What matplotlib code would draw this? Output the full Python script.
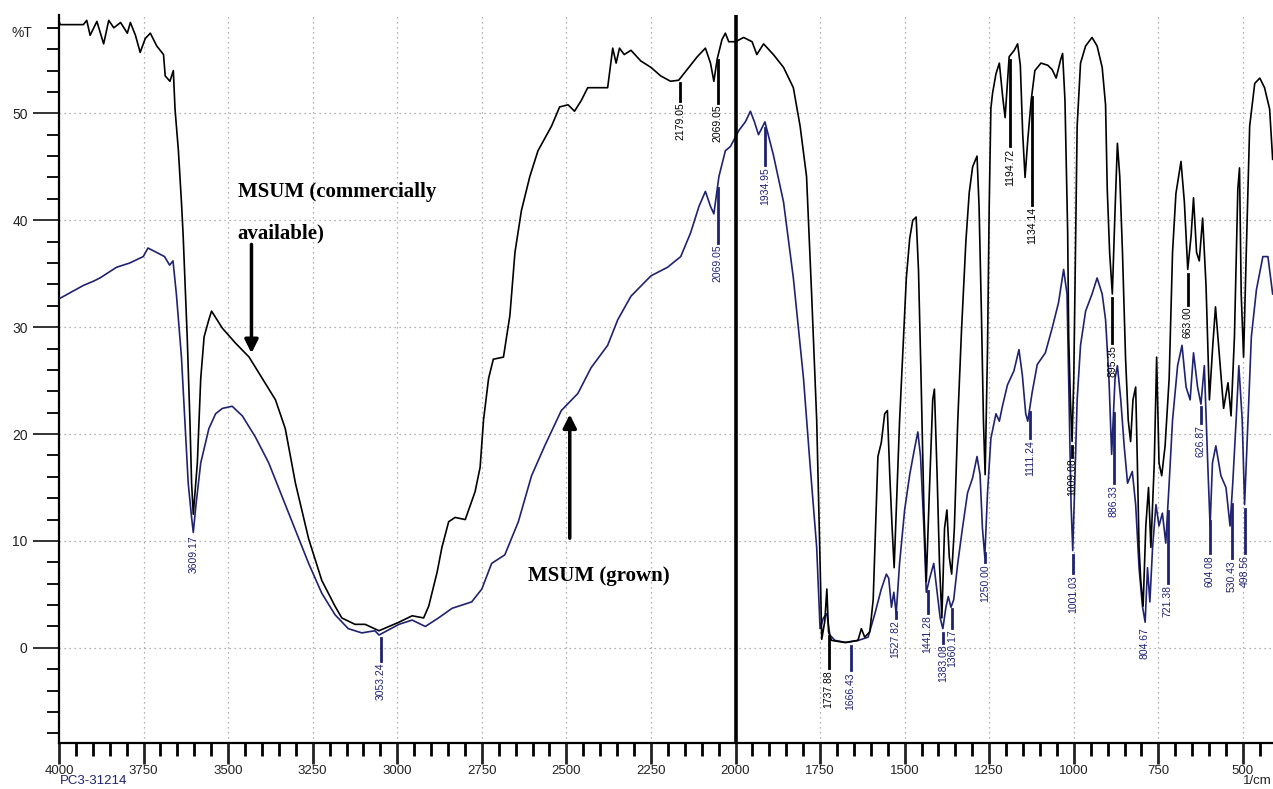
import numpy as np
import matplotlib
matplotlib.use("Agg")
import matplotlib.pyplot as plt

# FTIR spectra, %T vs wavenumber (1/cm)
wn_comm = [4000, 3997, 3928, 3918, 3908, 3888, 3868, 3853, 3838, 3818, 3798, 3789, 3774, 3760,
           3745, 3730, 3711, 3691, 3686, 3672, 3662, 3657, 3647, 3638, 3633, 3628, 3621, 3613,
           3608, 3603, 3591, 3581, 3571, 3557, 3549, 3517, 3478, 3438, 3399, 3360, 3331, 3301,
           3262, 3223, 3184, 3164, 3125, 3095, 3054, 2995, 2956, 2922, 2907, 2882, 2868, 2848,
           2829, 2799, 2770, 2755, 2745, 2730, 2716, 2686, 2667, 2652, 2633, 2608, 2584, 2544,
           2520, 2495, 2476, 2456, 2437, 2407, 2378, 2363, 2353, 2343, 2329, 2309, 2280, 2250,
           2221, 2192, 2168, 2143, 2113, 2089, 2074, 2064, 2054, 2040, 2030, 2020, 2000, 1976,
           1951, 1937, 1917, 1888, 1858, 1829, 1809, 1790, 1775, 1760, 1750, 1745, 1736, 1730,
           1725, 1716, 1677, 1638, 1628, 1618, 1603, 1593, 1579, 1569, 1559, 1551, 1544, 1537,
           1531, 1524, 1515, 1505, 1495, 1485, 1476, 1466, 1459, 1451, 1443, 1436, 1427, 1417,
           1412, 1404, 1397, 1390, 1382, 1375, 1368, 1361, 1353, 1343, 1332, 1319, 1309, 1299,
           1286, 1280, 1273, 1267, 1262, 1255, 1250, 1245, 1240, 1230, 1220, 1210, 1203, 1191,
           1176, 1166, 1158, 1151, 1144, 1136, 1126, 1115, 1097, 1077, 1064, 1052, 1039, 1033,
           1026, 1018, 1015, 1010, 1005, 1000, 995, 990, 980, 965, 946, 931, 916, 906, 901, 894,
           886, 878, 871, 864, 856, 847, 839, 832, 825, 817, 812, 807, 802, 795, 787, 779, 772,
           762, 755, 748, 740, 730, 718, 708, 698, 683, 673, 663, 653, 646, 637, 629, 619, 609,
           599, 589, 581, 569, 557, 544, 535, 525, 515, 510, 505, 498, 490, 480, 465, 450, 436,
           421, 412]
t_comm = [58.7, 58.3, 58.3, 58.7, 57.3, 58.6, 56.5, 58.7, 58.0, 58.5, 57.5, 58.5, 57.3, 55.7,
          57.0, 57.5, 56.3, 55.5, 53.5, 53.0, 54.0, 50.4, 46.5, 41.7, 38.6, 34.6, 29.1, 21.3,
          15.4, 12.5, 17.3, 25.2, 29.1, 30.7, 31.5, 29.9, 28.5, 27.2, 25.2, 23.2, 20.5, 15.4,
          10.2, 6.3, 3.9, 2.8, 2.2, 2.2, 1.6, 2.4, 3.0, 2.8, 3.9, 7.1, 9.4, 11.8,
          12.2, 12.0, 14.6, 16.9, 21.3, 25.2, 27.0, 27.2, 31.1, 37.0, 40.9, 44.1, 46.5, 48.8,
          50.6, 50.8, 50.2, 51.2, 52.4, 52.4, 52.4, 56.1, 54.7, 56.1, 55.5, 55.9, 54.9, 54.3,
          53.5, 53.0, 53.1, 54.1, 55.3, 56.1, 54.7, 53.0, 55.1, 56.9, 57.5, 56.7, 56.7, 57.1,
          56.7, 55.5, 56.5, 55.5, 54.3, 52.4, 48.8, 44.1, 33.1, 21.3, 8.0, 0.8, 2.5, 5.5,
          1.5, 0.7, 0.5, 0.7, 1.8, 1.0, 1.5, 4.5, 17.9, 19.2, 21.9, 22.2, 16.2, 11.2,
          7.5, 13.5, 21.2, 27.9, 34.6, 38.3, 40.0, 40.3, 35.3, 24.6, 12.9, 6.2, 14.5, 23.2,
          24.2, 16.2, 7.9, 2.8, 11.2, 12.9, 8.5, 6.9, 11.2, 21.2, 29.6, 38.0, 42.6, 45.0,
          46.0, 41.3, 31.3, 21.2, 16.2, 27.9, 41.3, 50.5, 51.9, 53.7, 54.7, 51.5, 49.6, 55.3,
          55.9, 56.5, 54.5, 48.1, 44.0, 47.5, 51.2, 54.0, 54.7, 54.5, 54.1, 53.3, 55.0, 55.6,
          51.2, 38.8, 29.1, 23.2, 19.3, 25.2, 37.0, 48.8, 54.7, 56.3, 57.1, 56.3, 54.3, 50.8, 42.9, 37.0,
          33.1, 40.9, 47.2, 44.1, 37.0, 27.2, 21.3, 19.3, 23.2, 24.4, 17.3, 9.4, 6.3, 3.9, 11.4, 15.0, 9.4,
          17.3, 27.2, 17.3, 16.1, 18.9, 25.2, 37.0, 42.5, 45.5, 41.7, 35.4, 38.6, 42.1, 37.0, 36.2, 40.2, 33.9,
          23.2, 28.3, 31.9, 27.2, 22.4, 24.8, 21.7, 29.1, 42.9, 44.9, 33.1, 27.2, 37.0, 48.8, 52.8, 53.3, 52.4,
          50.4, 45.7]

wn_grown = [4000, 3997, 3928, 3898, 3879, 3830, 3791, 3751, 3737, 3712, 3688, 3673, 3663, 3653,
            3638, 3628, 3618, 3608, 3603, 3595, 3581, 3557, 3537, 3517, 3488, 3458, 3419, 3380,
            3341, 3301, 3262, 3223, 3184, 3145, 3105, 3066, 3054, 2995, 2956, 2917, 2878, 2838,
            2780, 2750, 2721, 2682, 2642, 2603, 2564, 2515, 2466, 2427, 2378, 2348, 2309, 2250,
            2201, 2162, 2133, 2108, 2089, 2074, 2064, 2049, 2030, 2015, 1990, 1971, 1956, 1944,
            1932, 1913, 1888, 1858, 1829, 1799, 1780, 1760, 1750, 1740, 1730, 1721, 1706, 1672,
            1637, 1608, 1588, 1569, 1554, 1547, 1539, 1532, 1525, 1515, 1500, 1485, 1471, 1461,
            1453, 1443, 1436, 1426, 1414, 1404, 1395, 1387, 1378, 1371, 1363, 1355, 1343, 1329,
            1314, 1299, 1286, 1277, 1270, 1263, 1255, 1245, 1230, 1220, 1211, 1196, 1177, 1162,
            1152, 1142, 1136, 1123, 1108, 1084, 1064, 1045, 1030, 1020, 1013, 1008, 1003, 997,
            990, 980, 965, 946, 931, 916, 906, 896, 888, 878, 871, 861, 851, 841, 827, 817, 807,
            797, 789, 782, 775, 767, 757, 748, 738, 728, 718, 708, 693, 680, 668, 656, 646, 634,
            624, 614, 604, 597, 590, 580, 565, 550, 538, 530, 520, 512, 502, 495, 485, 475, 460,
            441, 426, 412]
t_grown = [32.7, 32.7, 33.9, 34.3, 34.6, 35.6, 36.0, 36.6, 37.4, 37.0, 36.6, 35.8, 36.2, 33.1,
           27.2, 21.3, 15.4, 12.2, 10.8, 13.4, 17.3, 20.5, 21.9, 22.4, 22.6, 21.7, 19.7, 17.3,
           14.2, 11.0, 7.9, 5.1, 3.1, 1.8, 1.4, 1.6, 1.2, 2.2, 2.6, 2.0, 2.8, 3.7,
           4.3, 5.5, 7.9, 8.7, 11.8, 16.1, 18.9, 22.2, 23.8, 26.2, 28.3, 30.7, 32.9, 34.8,
           35.6, 36.6, 38.8, 41.3, 42.7, 41.3, 40.6, 44.1, 46.5, 46.9, 48.4, 49.2, 50.2, 49.2,
           48.0, 49.2, 46.1, 41.7, 34.6, 25.2, 17.3, 9.4, 1.8, 2.8, 3.2, 1.2, 0.7, 0.5,
           0.7, 1.0, 3.2, 5.5, 6.9, 6.5, 3.8, 5.2, 3.2, 7.9, 12.9, 16.2, 18.6, 20.2,
           17.9, 11.2, 5.2, 6.5, 7.9, 5.2, 2.8, 1.8, 3.8, 4.8, 3.8, 4.5, 7.9, 11.2,
           14.5, 15.9, 17.9, 16.2, 11.2, 8.5, 14.5, 19.6, 21.9, 21.2, 22.6, 24.6, 25.9, 27.9,
           25.5, 21.9, 21.2, 23.9, 26.5, 27.6, 29.9, 32.3, 35.4, 33.1, 21.3, 13.4, 9.1, 15.4,
           23.2, 28.3, 31.5, 33.1, 34.6, 33.1, 30.7, 25.2, 18.1, 25.2, 26.4, 23.2, 18.9, 15.4, 16.5, 13.4, 7.5,
           3.9, 2.4, 7.5, 4.3, 9.4, 13.4, 11.4, 12.6, 9.8, 15.4, 21.3, 26.4, 28.3, 24.4, 23.2, 27.6, 24.4,
           22.8, 26.4, 17.3, 11.4, 17.3, 18.9, 16.1, 15.0, 11.4, 15.4, 21.3, 26.4, 21.3, 13.4, 21.3, 29.1, 33.5,
           36.6, 36.6, 33.1]

# peak labels: wavenumber, text, which trace, where the text starts (%T)
peak_wn = [3048, 2164, 2052, 1725, 1189, 1123, 1005, 886, 663,
           3603, 2052, 1912, 1660, 1527, 1432, 1387, 1360, 1262, 1130, 1003, 882, 790, 722,
           625, 598, 533, 495]
peak_txt = ["3053.24", "2179.05", "2069.05", "1737.88", "1194.72", "1134.14", "1009.08", "895.35", "663.00",
            "3609.17", "2069.05", "1934.95", "1666.43", "1527.82", "1441.28", "1383.08", "1360.17",
            "1250.00", "1111.24", "1001.03", "886.33", "804.67", "721.38", "626.87", "604.08",
            "530.43", "498.56"]
peak_src = ["b", "k", "k", "k", "k", "k", "k", "k", "k",
            "b", "b", "b", "b", "b", "b", "b", "b", "b", "b", "b", "b", "b", "b", "b", "b", "b", "b"]
peak_ytxt = [-1.4, 51.0, 50.8, -2.1, 46.7, 41.2, 17.7, 28.3, 31.9,
             10.5, 37.7, 45.0, -2.3, 2.6, 3.1, 0.3, 1.7, 7.8, 19.4, 6.8, 15.2, 1.9, 5.9, 20.8, 8.7,
             8.2, 8.7]

navy = "#1f2270"
plt.rcParams["font.family"] = ["Liberation Sans", "DejaVu Sans"]

fig = plt.figure(figsize=(12.73, 7.89), dpi=100)
ax = fig.add_axes([59 / 1273, 46 / 789, 1 - 59 / 1273, 728 / 789])

ax.plot(wn_grown, t_grown, color=navy, lw=1.2, zorder=3)
ax.plot(wn_comm, t_comm, color="black", lw=1.2, zorder=4)
ax.axvline(2000, color="black", lw=2.6, zorder=5)

ax.set_xlim(4000, 411)
ax.set_ylim(-8.9, 59.2)
ax.set_xticks(np.arange(4000, 499, -250))
ax.set_xticks(np.arange(4000, 410, -50), minor=True)
ax.set_yticks(np.arange(0, 51, 10))
ax.set_yticks(np.arange(-8, 59, 2), minor=True)
ax.tick_params(axis="y", which="major", length=19, width=1.3, labelsize=10, colors="#222222")
ax.tick_params(axis="y", which="minor", length=9, width=1.3)
ax.tick_params(axis="x", which="major", length=15, width=2, labelsize=9.5, colors="#222222", pad=1)
ax.tick_params(axis="x", which="minor", length=9, width=2)
for s in ["top", "right"]:
    ax.spines[s].set_visible(False)
for s in ["left", "bottom"]:
    ax.spines[s].set_linewidth(1.6)
ax.grid(which="major", color="#999999", linestyle=(0, (1, 3)), lw=0.9)

# peak markers
for w, txt, src, yt in zip(peak_wn, peak_txt, peak_src, peak_ytxt):
    if src == "k":
        ycur = np.interp(w, wn_comm[::-1], t_comm[::-1])
        col = "black"
    else:
        ycur = np.interp(w, wn_grown[::-1], t_grown[::-1])
        col = navy
    if ycur - 0.4 > yt + 0.3:
        ax.plot([w, w], [ycur - 0.4, yt + 0.2], color=col, lw=2, zorder=6)
    ax.text(w, yt, txt, rotation=90, ha="center", va="top", fontsize=7.5, color=col, zorder=6)

# sample annotations
ax.text(3472, 42.2, "MSUM (commercially", family="Liberation Serif", weight="bold", fontsize=15)
ax.text(3472, 38.3, "available)", family="Liberation Serif", weight="bold", fontsize=15)
ax.annotate("", xy=(3431, 27.3), xytext=(3431, 38.0),
            arrowprops=dict(arrowstyle="-|>", color="black", lw=2.5, mutation_scale=20))
ax.text(2612, 6.7, "MSUM (grown)", family="Liberation Serif", weight="bold", fontsize=15, va="center")
ax.annotate("", xy=(2490, 22.1), xytext=(2490, 10.0),
            arrowprops=dict(arrowstyle="-|>", color="black", lw=2.5, mutation_scale=20))

fig.text(12 / 1273, 1 - 33 / 789, "%T", fontsize=10, va="center", color="#222222")
fig.text(60 / 1273, 2 / 789, "PC3-31214", fontsize=9.5, va="bottom", color=navy)
fig.text(1272 / 1273, 2 / 789, "1/cm", fontsize=9.5, va="bottom", ha="right", color="#222222")

fig.savefig("out.png", dpi=100)
